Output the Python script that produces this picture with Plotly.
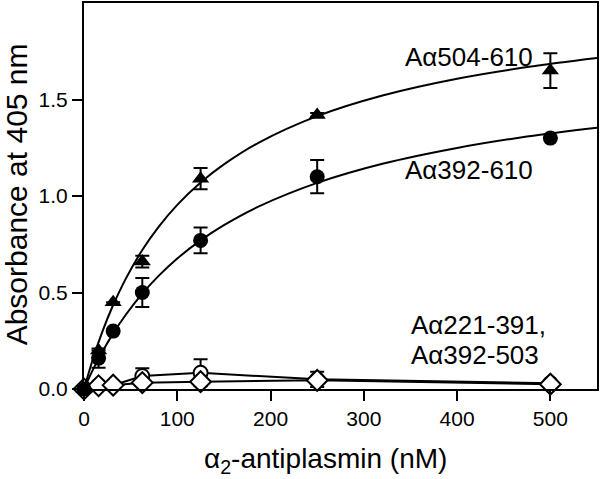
import plotly.graph_objects as go

# ---- data ----
conc = [0, 15.6, 31.25, 62.5, 125, 250, 500]

a504_610 = [0, 0.20, 0.45, 0.66, 1.09, 1.42, 1.65]
a504_610_err = [0, 0, 0, 0.03, 0.055, 0.01, 0.09]

a392_610 = [0, 0.16, 0.30, 0.50, 0.77, 1.10, 1.30]
a392_610_err = [0, 0.05, 0, 0.075, 0.067, 0.086, 0]

a221_391 = [0, 0.02, 0.02, 0.067, 0.084, 0.05, 0.03]
a221_391_err = [0, 0, 0, 0.04, 0.07, 0.04, 0]

a392_503 = [0, 0.017, 0.02, 0.033, 0.038, 0.045, 0.025]
a392_503_err = [0, 0, 0, 0, 0, 0, 0]

# fitted binding curves
fit_x = [0, 10, 20, 30, 45, 62.5, 80, 100, 125, 150, 187.5, 250, 320, 400, 475, 550]
fit_504_610 = [0, 0.162, 0.301, 0.421, 0.573, 0.720, 0.840, 0.954, 1.070, 1.164,
               1.277, 1.414, 1.521, 1.608, 1.668, 1.715]
fit_392_610 = [0, 0.104, 0.196, 0.278, 0.386, 0.494, 0.586, 0.676, 0.770, 0.849,
               0.946, 1.068, 1.167, 1.249, 1.308, 1.354]

x_ticks = [0, 100, 200, 300, 400, 500]
y_ticks = [0, 0.5, 1.0, 1.5]

FONT = "Liberation Sans, Arial, Helvetica, sans-serif"
BLACK = "black"

fig = go.Figure()

err_style = dict(type="data", thickness=2, width=7, color=BLACK)

# open-symbol series (drawn first so filled markers sit on top at origin)
fig.add_trace(go.Scatter(
    x=conc, y=a221_391, mode="lines+markers",
    line=dict(color=BLACK, width=2),
    marker=dict(symbol="circle", size=14, color="white", line=dict(color=BLACK, width=2)),
    error_y=dict(array=a221_391_err, **err_style),
    cliponaxis=False, showlegend=False))
fig.add_trace(go.Scatter(
    x=conc, y=a392_503, mode="lines+markers",
    line=dict(color=BLACK, width=2),
    marker=dict(symbol="diamond", size=16, color="white", line=dict(color=BLACK, width=2)),
    error_y=dict(array=a392_503_err, **err_style),
    cliponaxis=False, showlegend=False))

# fit curves
fig.add_trace(go.Scatter(x=fit_x, y=fit_504_610, mode="lines", line=dict(color=BLACK, width=2, shape="spline"),
                         showlegend=False, hoverinfo="skip"))
fig.add_trace(go.Scatter(x=fit_x, y=fit_392_610, mode="lines", line=dict(color=BLACK, width=2, shape="spline"),
                         showlegend=False, hoverinfo="skip"))

# filled series
fig.add_trace(go.Scatter(
    x=conc, y=a392_610, mode="markers",
    marker=dict(symbol="circle", size=15, color=BLACK),
    error_y=dict(array=a392_610_err, **err_style),
    cliponaxis=False, showlegend=False))
fig.add_trace(go.Scatter(
    x=conc, y=a504_610, mode="markers",
    marker=dict(symbol="triangle-up", size=15, color=BLACK),
    error_y=dict(array=a504_610_err, **err_style),
    cliponaxis=False, showlegend=False))

ann_font = dict(family=FONT, size=26, color=BLACK)
annotations = [
    dict(x=484, y=1.72, xref="x", yref="y", text="Aα504-610", showarrow=False,
         xanchor="right", yanchor="middle", font=ann_font),
    dict(x=484, y=1.134, xref="x", yref="y", text="Aα392-610", showarrow=False,
         xanchor="right", yanchor="middle", font=ann_font),
    dict(x=348, y=0.33, xref="x", yref="y", text="Aα221-391,", showarrow=False,
         xanchor="left", yanchor="middle", font=ann_font),
    dict(x=348, y=0.175, xref="x", yref="y", text="Aα392-503", showarrow=False,
         xanchor="left", yanchor="middle", font=ann_font),
    dict(x=0.471, y=-0.186, xref="paper", yref="paper",
         text="α<sub>2</sub>-antiplasmin (nM)", showarrow=False,
         xanchor="center", yanchor="middle", font=dict(family=FONT, size=28, color=BLACK)),
    dict(x=-0.132, y=0.505, xref="paper", yref="paper", textangle=-90,
         text="Absorbance at 405 nm", showarrow=False,
         xanchor="center", yanchor="middle", font=dict(family=FONT, size=30, color=BLACK)),
]

fig.update_layout(
    width=600, height=479,
    margin=dict(l=84, r=2, t=1, b=90),
    paper_bgcolor="white", plot_bgcolor="white",
    font=dict(family=FONT, size=21, color=BLACK),
    annotations=annotations,
    xaxis=dict(range=[0, 550], tickvals=x_ticks, ticks="outside", ticklen=10, tickwidth=2,
               tickcolor=BLACK, showline=True, linecolor=BLACK, linewidth=2, mirror=True,
               showgrid=False, zeroline=False, tickfont=dict(size=21)),
    yaxis=dict(range=[0, 2.0], tickvals=y_ticks, tickformat=".1f", ticks="outside", ticklen=10,
               tickwidth=2, tickcolor=BLACK, showline=True, linecolor=BLACK, linewidth=2,
               mirror=True, showgrid=False, zeroline=False, tickfont=dict(size=21)),
)

fig.write_html("out.html", config={"displayModeBar": False},
               post_script="document.body.style.margin='0';document.body.style.padding='0';")
